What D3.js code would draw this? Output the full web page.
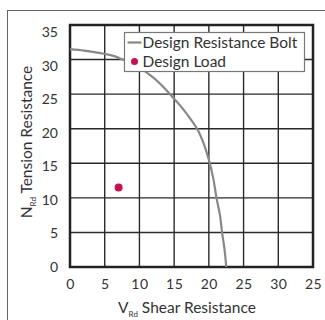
<!DOCTYPE html>
<html>
<head>
<meta charset="utf-8">
<script src="https://cdn.jsdelivr.net/npm/d3@7"></script>
<style>
  body { margin: 0; background: #fff; }
  svg text { font-family: "Lato", "Open Sans", sans-serif; fill: #333; }
</style>
</head>
<body>
<script>
// values
var xTicks = [0, 5, 10, 15, 20, 25, 30, 35];
var xTickLabels = ["0", "5", "10", "15", "20", "25", "30", "25"];
var yTicks = [0, 5, 10, 15, 20, 25, 30, 35];

// design resistance curve (shear V, tension N)
var boltV = [0, 2, 4, 6, 7.6, 10, 12, 14.4, 16, 17.5, 18.3, 19.2, 20, 20.6, 21.1, 21.6, 21.9, 22.2, 22.4, 22.5];
var boltN = [31.5, 31.3, 31, 30.6, 30, 28.8, 27.4, 25, 23.2, 21.2, 20, 18, 15.5, 13, 10, 7.5, 5, 3, 1.2, 0];

var loadV = [7];
var loadN = [11.5];

var W = 325, H = 320;
var margin = {left: 70, top: 25, right: 12, bottom: 53};

var svg = d3.select("body").append("svg")
	.attr("width", W)
	.attr("height", H);

// outer frame
svg.append("rect")
	.attr("x", 7.5).attr("y", 10.5)
	.attr("width", 330).attr("height", 330)
	.style("fill", "none")
	.style("stroke", "#666")
	.style("stroke-width", 1);

var x = d3.scaleLinear().domain([0, 35]).range([margin.left, W - margin.right]);
var y = d3.scaleLinear().domain([0, 35]).range([H - margin.bottom, margin.top]);

//grid
var grid = svg.append("g");
grid.selectAll(".vx").data(xTicks).enter().append("line")
	.attr("x1", d => x(d)).attr("x2", d => x(d))
	.attr("y1", y(0)).attr("y2", y(35))
	.style("stroke", "#2a2a2a").style("stroke-width", 1.4);
grid.selectAll(".hy").data(yTicks).enter().append("line")
	.attr("x1", x(0)).attr("x2", x(35))
	.attr("y1", d => y(d)).attr("y2", d => y(d))
	.style("stroke", "#2a2a2a").style("stroke-width", 1.4);

// plot border
svg.append("rect")
	.attr("x", x(0)).attr("y", y(35))
	.attr("width", x(35) - x(0)).attr("height", y(0) - y(35))
	.style("fill", "none")
	.style("stroke", "#222")
	.style("stroke-width", 2.5);

// axes (labels only)
var xAxis = svg.append("g")
	.attr("transform", "translate(0," + y(0) + ")")
	.call(d3.axisBottom(x).tickValues(xTicks).tickSize(0).tickPadding(12)
		.tickFormat((d, i) => xTickLabels[i]));
xAxis.select(".domain").remove();
xAxis.selectAll("text").style("font-size", "14px").style("letter-spacing", "0.5px");

var yAxis = svg.append("g")
	.attr("transform", "translate(" + x(0) + ",0)")
	.call(d3.axisLeft(y).tickValues(yTicks).tickSize(0).tickPadding(12));
yAxis.select(".domain").remove();
yAxis.selectAll("text").style("font-size", "14px").attr("dy", d => (0.32 + (d / 35) * 0.5) + "em");

// curve
var curve = boltV.map((v, i) => [v, boltN[i]]);
svg.append("path")
	.datum(curve)
	.attr("d", d3.line().x(d => x(d[0])).y(d => y(d[1])).curve(d3.curveMonotoneY))
	.style("fill", "none")
	.style("stroke", "#888")
	.style("stroke-width", 2.2);

// design load
svg.selectAll(".load").data(loadV).enter().append("circle")
	.attr("cx", d => x(d))
	.attr("cy", (d, i) => y(loadN[i]))
	.attr("r", 4)
	.style("fill", "#c8104e");

// legend
var lg = svg.append("g").attr("transform", "translate(124.5,32.5)");
lg.append("rect")
	.attr("width", 180).attr("height", 39)
	.style("fill", "#fff")
	.style("stroke", "#777")
	.style("stroke-width", 1.2);
lg.append("line")
	.attr("x1", 3).attr("x2", 17).attr("y1", 10).attr("y2", 10)
	.style("stroke", "#888").style("stroke-width", 2.2);
lg.append("text").attr("x", 18).attr("y", 15).style("font-size", "15.5px").text("Design Resistance Bolt");
lg.append("circle").attr("cx", 10).attr("cy", 29).attr("r", 3.5).style("fill", "#c8104e");
lg.append("text").attr("x", 18).attr("y", 34).style("font-size", "15.5px").text("Design Load");

// axis titles
var xt = svg.append("text")
	.attr("x", 187).attr("y", 313)
	.attr("text-anchor", "middle")
	.style("font-size", "15.5px");
xt.append("tspan").text("V");
xt.append("tspan").attr("dy", 4).style("font-size", "8px").text("Rd");
xt.append("tspan").attr("dy", -4).text(" Shear Resistance");

var yt = svg.append("text")
	.attr("transform", "translate(32,142) rotate(-90)")
	.attr("text-anchor", "middle")
	.style("font-size", "15.5px");
yt.append("tspan").text("N");
yt.append("tspan").attr("dy", 4).style("font-size", "8px").text("Rd");
yt.append("tspan").attr("dy", -4).text(" Tension Resistance");
</script>
</body>
</html>
